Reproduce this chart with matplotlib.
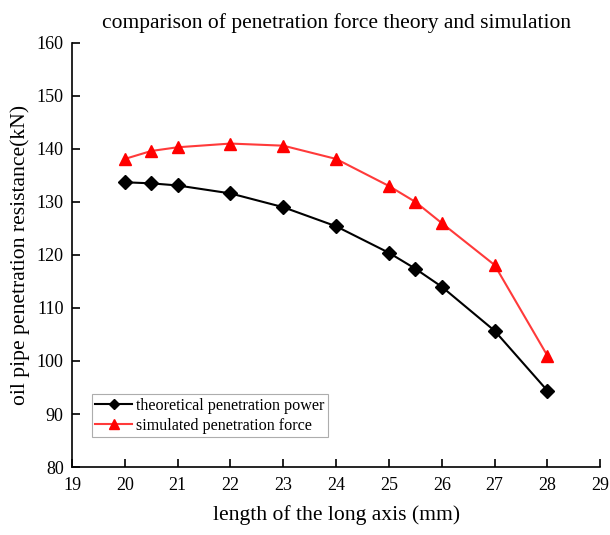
import matplotlib
matplotlib.use("Agg")
import matplotlib.pyplot as plt

plt.rcParams['font.family'] = ['Liberation Serif', 'DejaVu Serif']

length = [20, 20.5, 21, 22, 23, 24, 25, 25.5, 26, 27, 28]
theoretical = [133.7, 133.5, 133.1, 131.6, 129.0, 125.4, 120.4, 117.4, 114.0, 105.7, 94.4]
simulated = [138.1, 139.6, 140.3, 141.0, 140.6, 138.1, 133.0, 130.0, 126.0, 118.1, 101.0]
x_ticks = [19, 20, 21, 22, 23, 24, 25, 26, 27, 28, 29]
y_ticks = [80, 90, 100, 110, 120, 130, 140, 150, 160]

fig = plt.figure(figsize=(6.1, 5.35), dpi=100)
ax = fig.add_axes([0.118, 0.127, 0.866, 0.793])

ax.plot(length, theoretical, color='black', lw=1.5, marker='D', ms=7,
        markerfacecolor='black', markeredgecolor='black',
        label='theoretical penetration power')
ax.plot(length, simulated, color='#ff3a3a', lw=1.5, marker='^', ms=9,
        markerfacecolor='red', markeredgecolor='red',
        label='simulated penetration force')

ax.set_xlim(19, 29)
ax.set_ylim(80, 160)
ax.set_xticks(x_ticks)
ax.set_yticks(y_ticks)
ax.tick_params(direction='in', length=6, width=1.2, labelsize=13)
ax.tick_params(axis='x', pad=7)
ax.tick_params(axis='y', pad=6)
for s in ['top', 'right']:
    ax.spines[s].set_visible(False)
for s in ['left', 'bottom']:
    ax.spines[s].set_linewidth(1.2)

ax.set_xlabel('length of the long axis (mm)', fontsize=15.6, labelpad=8)
ax.set_ylabel('oil pipe penetration resistance(kN)', fontsize=15.6, labelpad=5)
ax.set_title('comparison of penetration force theory and simulation', fontsize=15.5, pad=11)

leg = ax.legend(loc='lower left', bbox_to_anchor=(0.038, 0.071), fontsize=11.6,
                frameon=True, fancybox=False, edgecolor='#999999',
                handlelength=2.3, handletextpad=0.25, borderpad=0.2, labelspacing=0.25,
                borderaxespad=0, markerscale=0.75)
leg.get_frame().set_linewidth(0.8)

fig.savefig('out.png', dpi=100)
